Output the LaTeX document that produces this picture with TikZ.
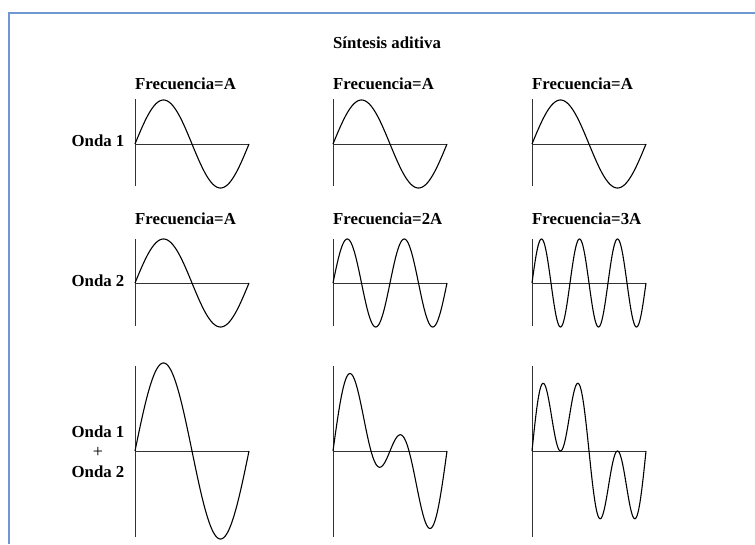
\documentclass[tikz,border=0pt]{standalone}
\usepackage{fontspec}
\setmainfont{Liberation Serif}
\definecolor{framec}{RGB}{112,152,208}
\begin{document}
\begin{tikzpicture}[x=1pt,y=-1pt,
  lbl/.style={font=\fontsize{16.8}{18}\selectfont\bfseries, inner sep=0pt},
  axisline/.style={line width=0.9pt, black!80},
  wave/.style={line width=1.1pt, black},
  frameline/.style={line width=2.2pt, color=framec}]
\useasboundingbox (0,0) rectangle (755,544);
% frame
\draw[frameline] (9,544) -- (9,13) -- (755,13);
% title
\node[lbl] (title) at (387,43) {Síntesis aditiva};
% frequency labels
\node[lbl, anchor=west] (f11) at (135,84) {Frecuencia=A};
\node[lbl, anchor=west] (f12) at (333,84) {Frecuencia=A};
\node[lbl, anchor=west] (f13) at (532,84) {Frecuencia=A};
\node[lbl, anchor=west] (f21) at (135,219) {Frecuencia=A};
\node[lbl, anchor=west] (f22) at (333,219) {Frecuencia=2A};
\node[lbl, anchor=west] (f23) at (532,219) {Frecuencia=3A};
% row labels
\node[lbl] (o1) at (98,141) {Onda 1};
\node[lbl] (o2) at (98,281) {Onda 2};
\node[lbl] (s1) at (98,432) {Onda 1};
\node[lbl, font=\fontsize{18}{18}\selectfont] (s2) at (98,452) {+};
\node[lbl] (s3) at (98,472) {Onda 2};
% axes
\foreach \cx in {135,333,532} {
  \draw[axisline] (\cx,99) -- (\cx,186);
  \draw[axisline] (\cx,144) -- (\cx+114,144);
  \draw[axisline] (\cx,239) -- (\cx,326);
  \draw[axisline] (\cx,283) -- (\cx+114,283);
  \draw[axisline] (\cx,366) -- (\cx,537);
  \draw[axisline] (\cx,451) -- (\cx+114,451);
}
% waves
\foreach \cx/\k in {135/1,333/2,532/3} {
  \draw[wave] plot[domain=0:114, samples=220] ({\cx+\x}, {144-44*sin(\x/114*360)});
  \draw[wave] plot[domain=0:114, samples=220] ({\cx+\x}, {283-44*sin(\k*(\x/114*360))});
  \draw[wave] plot[domain=0:114, samples=220] ({\cx+\x}, {451-44*(sin(\x/114*360)+sin(\k*(\x/114*360)))});
}
\end{tikzpicture}
\end{document}
